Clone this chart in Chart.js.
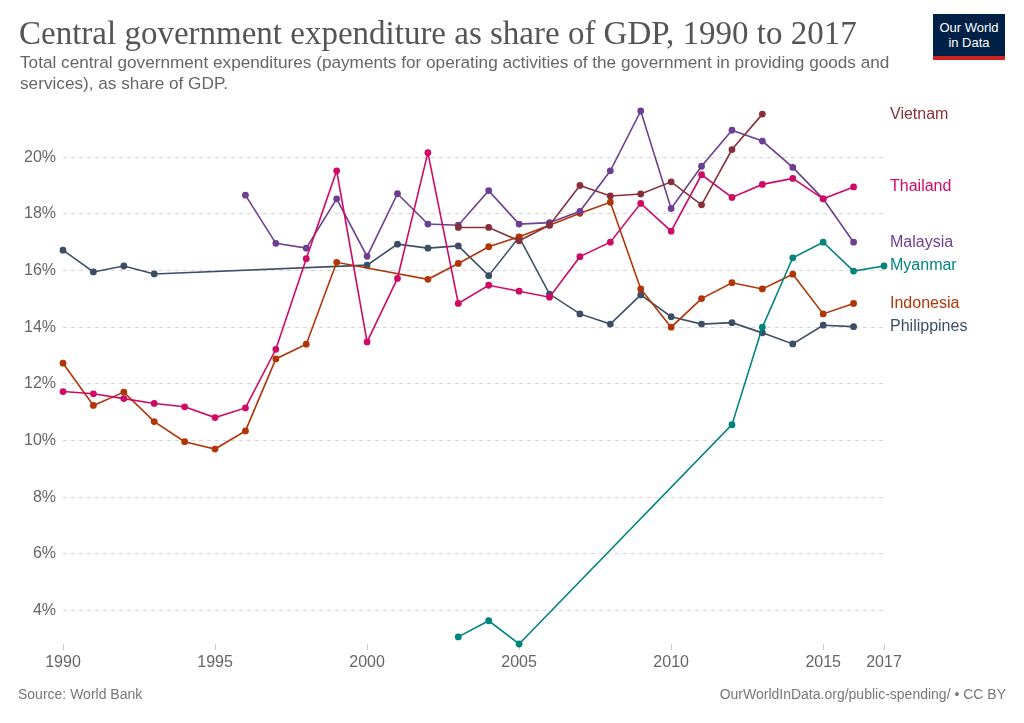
<!DOCTYPE html>
<html>
<head>
<meta charset="utf-8">
<script src="https://cdn.jsdelivr.net/npm/chart.js@4"></script>
<style>
  body { margin: 0; background: #fff; }
  #wrap { position: relative; width: 1024px; height: 723px; overflow: hidden; font-family: "Liberation Sans", Arial, sans-serif; }
  #chart { position: absolute; left: 0; top: 0; }
  #title { position: absolute; left: 19px; top: 15px; font-family: "Liberation Serif", serif; font-size: 33px; color: #555; white-space: nowrap; }
  #subtitle { position: absolute; left: 20px; top: 52px; font-size: 17.2px; line-height: 21px; color: #666; white-space: nowrap; }
  #logo { position: absolute; left: 933px; top: 14px; width: 72px; height: 46px; background: #002147; color: #fff; font-size: 13px; line-height: 15px; text-align: center; box-sizing: border-box; padding-top: 6px; border-bottom: 4px solid #ce261e; }
  #source { position: absolute; left: 18px; top: 686px; font-size: 14px; color: #777; }
  #credit { position: absolute; right: 18px; top: 686px; font-size: 14px; color: #777; }
</style>
</head>
<body>
<div id="wrap">
  <canvas id="chart" width="1024" height="723"></canvas>
  <div id="title">Central government expenditure as share of GDP, 1990 to 2017</div>
  <div id="subtitle">Total central government expenditures (payments for operating activities of the government in providing goods and<br>services), as share of GDP.</div>
  <div id="logo">Our World<br>in Data</div>
  <div id="source">Source: World Bank</div>
  <div id="credit">OurWorldInData.org/public-spending/ • CC BY</div>
</div>
<script>
// years on the x axis
const years = [1990, 1991, 1992, 1993, 1994, 1995, 1996, 1997, 1998, 1999,
               2000, 2001, 2002, 2003, 2004, 2005, 2006, 2007, 2008, 2009,
               2010, 2011, 2012, 2013, 2014, 2015, 2016, 2017];

// share of GDP (%) per year, null where there is no data
const vietnam = [null, null, null, null, null, null, null, null, null, null,
                 null, null, null, 17.52, 17.52, 17.05, 17.6, 19.0, 18.63, 18.7,
                 19.13, 18.32, 20.27, 21.52, null, null, null, null];
const thailand = [11.73, 11.65, 11.48, 11.31, 11.19, 10.81, 11.15, 13.22, 16.42, 19.52,
                  13.48, 15.72, 20.16, 14.84, 15.48, 15.27, 15.06, 16.49, 17.0, 18.37,
                  17.39, 19.38, 18.58, 19.04, 19.25, 18.53, 18.95, null];
const malaysia = [null, null, null, null, null, null, 18.66, 16.96, 16.79, 18.53,
                  16.5, 18.71, 17.64, 17.6, 18.82, 17.64, 17.69, 18.09, 19.52, 21.63,
                  18.19, 19.68, 20.95, 20.57, 19.64, 18.53, 17.0, null];
const myanmar = [null, null, null, null, null, null, null, null, null, null,
                 null, null, null, 3.07, 3.64, 2.82, null, null, null, null,
                 null, null, 10.56, 14.0, 16.45, 17.0, 15.98, 16.16];
const indonesia = [12.73, 11.24, 11.71, 10.67, 9.96, 9.7, 10.34, 12.88, 13.4, 16.29,
                   null, null, 15.69, 16.25, 16.84, 17.19, 17.6, 18.02, 18.41, 15.35,
                   14.0, 15.01, 15.57, 15.35, 15.87, 14.47, 14.84, null];
const philippines = [16.72, 15.95, 16.16, 15.88, null, null, null, null, null, null,
                     16.19, 16.93, 16.79, 16.87, 15.82, 17.18, 15.17, 14.47, 14.11, 15.14,
                     14.37, 14.11, 14.16, 13.8, 13.41, 14.07, 14.02, null];

// tick labels
const xTicks = [1990, 1995, 2000, 2005, 2010, 2015, 2017];
const yTicks = [4, 6, 8, 10, 12, 14, 16, 18, 20];

const series = [
    { name: 'Vietnam', values: vietnam, color: '#883039' },
    { name: 'Thailand', values: thailand, color: '#cf0a66' },
    { name: 'Malaysia', values: malaysia, color: '#6d3e91' },
    { name: 'Myanmar', values: myanmar, color: '#00847e' },
    { name: 'Indonesia', values: indonesia, color: '#b13507' },
    { name: 'Philippines', values: philippines, color: '#3c4e66' }
];

// names at the end of each line
const endLabels = {
    id: 'endLabels',
    afterDatasetsDraw(chart) {
        const ctx = chart.ctx;
        const yScale = chart.scales.y;
        ctx.save();
        ctx.font = '16px "Liberation Sans", Arial, sans-serif';
        ctx.textBaseline = 'middle';
        chart.data.datasets.forEach(ds => {
            const pts = ds.data.filter(p => p.y !== null);
            const last = pts[pts.length - 1];
            ctx.fillStyle = ds.borderColor;
            ctx.fillText(ds.label, chart.chartArea.right + 6, yScale.getPixelForValue(last.y));
        });
        ctx.restore();
    }
};

new Chart(document.getElementById('chart'), {
    type: 'line',
    data: {
        datasets: series.map(s => ({
            label: s.name,
            data: s.values.map((v, i) => ({ x: years[i], y: v })),
            borderColor: s.color,
            backgroundColor: s.color,
            borderWidth: 1.6,
            pointRadius: 2.6,
            pointHoverRadius: 2.6,
            spanGaps: true,
            clip: false,
            tension: 0
        }))
    },
    options: {
        responsive: false,
        animation: false,
        layout: { padding: { top: 111, right: 140, bottom: 0, left: 0 } },
        plugins: {
            legend: { display: false },
            tooltip: { enabled: false }
        },
        scales: {
            x: {
                type: 'linear',
                min: 1990,
                max: 2017,
                afterBuildTicks: scale => { scale.ticks = xTicks.map(v => ({ value: v })); },
                afterFit: scale => { scale.height = 79; },
                border: { display: false },
                grid: { drawOnChartArea: false, tickLength: 6, color: '#ccc' },
                ticks: {
                    color: '#666',
                    padding: 3,
                    maxRotation: 0,
                    font: { size: 16, family: '"Liberation Sans", Arial, sans-serif' },
                    callback: v => String(v)
                }
            },
            y: {
                min: 2.82,
                max: 21.63,
                afterBuildTicks: scale => { scale.ticks = yTicks.map(v => ({ value: v })); },
                afterFit: scale => { scale.width = 63; },
                border: { display: false, dash: [4, 4] },
                grid: { drawTicks: false, color: '#d6d6d6' },
                ticks: {
                    color: '#666',
                    padding: 7,
                    font: { size: 16, family: '"Liberation Sans", Arial, sans-serif' },
                    callback: v => v + '%'
                }
            }
        }
    },
    plugins: [endLabels]
});
</script>
</body>
</html>
